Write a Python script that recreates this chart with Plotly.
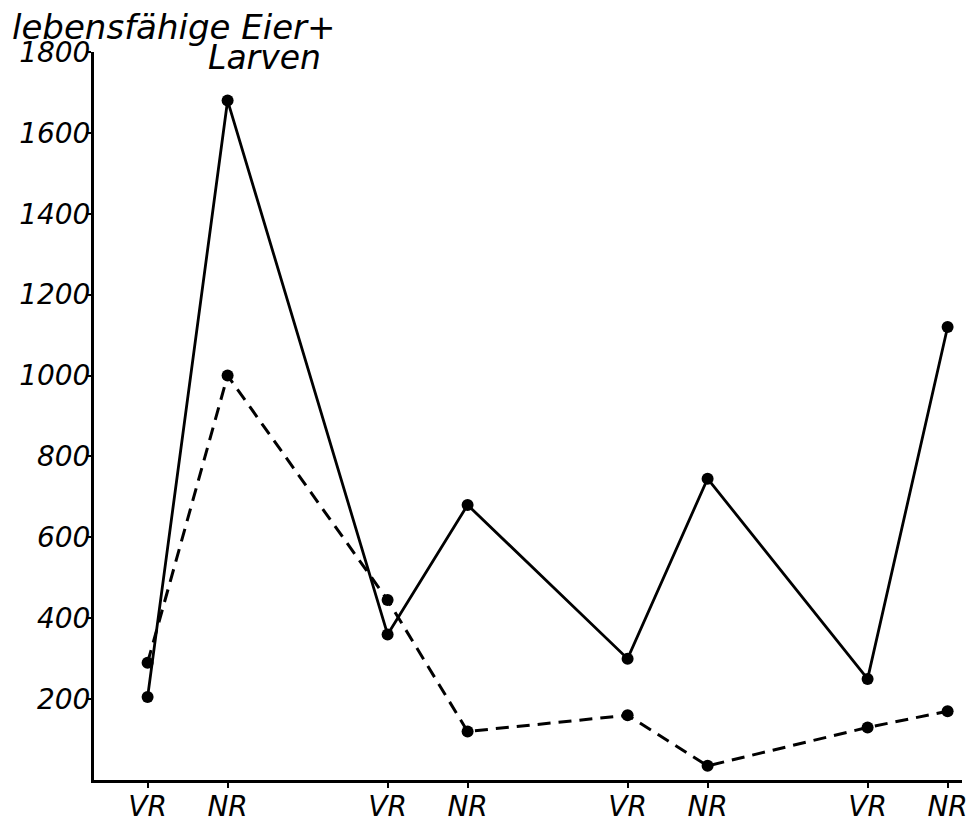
import plotly.graph_objects as go

categories = ["VR", "NR", "VR", "NR", "VR", "NR", "VR", "NR"]
x_pos = [1, 2, 4, 5, 7, 8, 10, 11]
solid_values = [205, 1680, 360, 680, 300, 745, 250, 1120]
dashed_values = [290, 1000, 445, 120, 160, 35, 130, 170]
y_ticks = [200, 400, 600, 800, 1000, 1200, 1400, 1600, 1800]

FONT = "DejaVu Sans"

fig = go.Figure()
fig.add_trace(go.Scatter(
    x=x_pos, y=dashed_values, mode="lines+markers",
    line=dict(color="black", width=3, dash="13px,8px"),
    marker=dict(color="black", size=12),
    showlegend=False, cliponaxis=False,
))
fig.add_trace(go.Scatter(
    x=x_pos, y=solid_values, mode="lines+markers",
    line=dict(color="black", width=2.8),
    marker=dict(color="black", size=12),
    showlegend=False, cliponaxis=False,
))

fig.update_layout(
    width=970, height=817,
    margin=dict(l=86, r=16, t=44, b=45),
    paper_bgcolor="white", plot_bgcolor="white",
    xaxis=dict(
        range=[0.33, 11.18], tickmode="array", tickvals=x_pos, ticktext=categories,
        showgrid=False, zeroline=False, showline=True, linecolor="black", linewidth=3,
        ticks="outside", ticklen=5, tickwidth=2, tickcolor="black", automargin=False,
        ticklabeloverflow="allow", ticklabelstandoff=-6,
        tickfont=dict(family=FONT, size=28, color="black", style="italic"),
    ),
    yaxis=dict(
        range=[0, 1800], tickmode="array", tickvals=y_ticks,
        showgrid=False, zeroline=False, showline=True, linecolor="black", linewidth=3,
        ticks="outside", ticklen=5, tickwidth=2, tickcolor="black", automargin=False,
        ticklabeloverflow="allow", ticklabelstandoff=-10,
        tickfont=dict(family=FONT, size=28, color="black", style="italic"),
    ),
    annotations=[
        dict(text="lebensfähige Eier+", xref="paper", yref="paper", x=-0.0968, y=1.0343,
             xanchor="left", yanchor="middle", showarrow=False,
             font=dict(family=FONT, size=34, color="black", style="italic")),
        dict(text="Larven", xref="paper", yref="paper", x=0.197, y=0.9918,
             xanchor="center", yanchor="middle", showarrow=False,
             font=dict(family=FONT, size=33, color="black", style="italic")),
    ],
)

fig.write_html("out.html")
